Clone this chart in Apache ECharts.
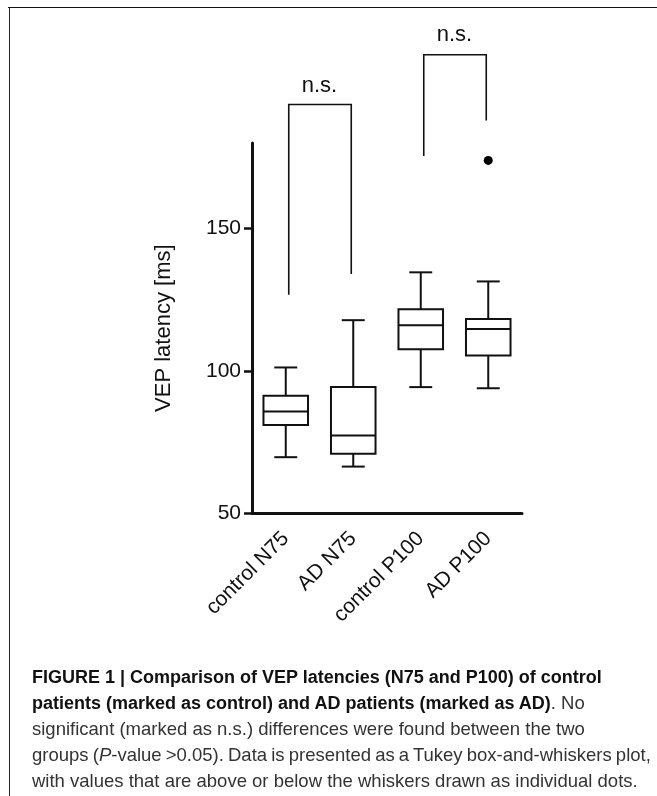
<!DOCTYPE html>
<html><head><meta charset="utf-8">
<script src="https://cdn.jsdelivr.net/npm/echarts@6/dist/echarts.min.js"></script>
<style>
html,body{margin:0;padding:0;background:#fff;}
#wrap{position:relative;width:657px;height:796px;overflow:hidden;}
#chart{position:absolute;left:0;top:0;width:657px;height:796px;}
#frameTop{position:absolute;left:8px;top:6.5px;width:649px;height:1.5px;background:#111;}
#frameLeft{position:absolute;left:8.5px;top:7px;width:1.5px;height:789px;background:#222;}
#caption{position:absolute;left:32px;top:664px;white-space:nowrap;font-family:"Liberation Sans",Arial,sans-serif;font-size:18.5px;line-height:26px;color:#333;}
#caption b{color:#111;font-size:18px;}
#caption .tight{word-spacing:-1px;}
</style></head>
<body>
<div id="wrap">
<div id="chart"></div>
<div id="frameTop"></div>
<div id="frameLeft"></div>
<div id="caption"><b>FIGURE 1 | Comparison of VEP latencies (N75 and P100) of control</b><br><b>patients (marked as control) and AD patients (marked as AD)</b>. No<br>significant (marked as n.s.) differences were found between the two<br><span class="tight">groups (<i>P</i>-value &gt;0.05). Data is presented as a Tukey box-and-whiskers plot,</span><br>with values that are above or below the whiskers drawn as individual dots.</div>
</div>
<script>
// ---- data ----
const categories = ['control N75', 'AD N75', 'control P100', 'AD P100'];
const whiskerLow = [69.7, 66.4, 94.3, 93.9];
const q1Values   = [81.0, 70.9, 107.6, 105.4];
const medians    = [85.7, 77.3, 116.0, 114.7];
const q3Values   = [91.3, 94.3, 121.6, 118.2];
const whiskerHigh= [101.2, 117.8, 134.6, 131.4];
const outliers   = [[3, 173.9]];
const yTicks     = [50, 100, 150];
// brackets: [left category, right category, top value, left foot, right foot]
const brackets   = [[0, 1, 193.5, 126.7, 134.0], [2, 3, 211.0, 175.4, 187.9]];
const bracketLabels = ['n.s.', 'n.s.'];
const bracketLabelValues = [200.0, 218.0];

const FONT = '"Liberation Sans", Arial, Helvetica, sans-serif';
const INK = '#111';

const boxData = categories.map((c, i) => [i, whiskerLow[i], q1Values[i], medians[i], q3Values[i], whiskerHigh[i]]);
const bracketData = brackets.map((b, i) => [b[0], b[1], b[2], b[3], b[4], bracketLabelValues[i]]);

function renderBox(params, api) {
  const i = api.value(0);
  const lo = api.coord([i, api.value(1)]);
  const q1 = api.coord([i, api.value(2)]);
  const md = api.coord([i, api.value(3)]);
  const q3 = api.coord([i, api.value(4)]);
  const hi = api.coord([i, api.value(5)]);
  const band = api.size([1, 0])[0];
  const bw = band * 0.66, cw = band * 0.34;
  const x = lo[0];
  const st = { stroke: INK, lineWidth: 2, fill: null };
  const line = (x1, y1, x2, y2) => ({ type: 'line', shape: { x1, y1, x2, y2 }, style: st });
  return {
    type: 'group',
    children: [
      { type: 'rect', shape: { x: x - bw / 2, y: q3[1], width: bw, height: q1[1] - q3[1] }, style: { stroke: INK, lineWidth: 2, fill: '#fff' } },
      line(x - bw / 2, md[1], x + bw / 2, md[1]),
      line(x, q3[1], x, hi[1]),
      line(x, q1[1], x, lo[1]),
      line(x - cw / 2, hi[1], x + cw / 2, hi[1]),
      line(x - cw / 2, lo[1], x + cw / 2, lo[1])
    ]
  };
}

function renderBracket(params, api) {
  const l = api.value(0), r = api.value(1);
  const tl = api.coord([l, api.value(2)]);
  const tr = api.coord([r, api.value(2)]);
  const bl = api.coord([l, api.value(3)]);
  const br = api.coord([r, api.value(4)]);
  const lab = api.coord([l, api.value(5)]);
  const st = { stroke: INK, lineWidth: 1.6, fill: null };
  return {
    type: 'group',
    children: [
      { type: 'polyline', shape: { points: [[bl[0] + 3, bl[1]], [tl[0] + 3, tl[1]], [tr[0] - 2, tr[1]], [br[0] - 2, br[1]]] }, style: st },
      { type: 'text', style: { text: bracketLabels[params.dataIndex], x: (tl[0] + tr[0]) / 2, y: lab[1], align: 'center', verticalAlign: 'middle', fontSize: 22, fontFamily: FONT, fill: INK } }
    ]
  };
}

const chart = echarts.init(document.getElementById('chart'), null, { renderer: 'canvas' });
chart.setOption({
  animation: false,
  backgroundColor: 'transparent',
  grid: { left: 252, right: 135, top: 143, bottom: 282.7, containLabel: false },
  xAxis: {
    type: 'category',
    data: categories,
    boundaryGap: true,
    axisLine: { lineStyle: { color: INK, width: 3 } },
    axisTick: { alignWithLabel: true, length: 7, lineStyle: { color: INK, width: 2.5 } },
    axisLabel: { rotate: 45, interval: 0, margin: 22, fontSize: 21, color: INK, fontFamily: FONT },
    splitLine: { show: false }
  },
  yAxis: {
    type: 'value',
    min: 50, max: 180, interval: 50,
    name: 'VEP latency [ms]',
    nameLocation: 'middle',
    nameGap: 77,
    nameTextStyle: { fontSize: 22, color: INK, fontFamily: FONT },
    axisLine: { show: true, lineStyle: { color: INK, width: 3 } },
    axisTick: { show: true, length: 8, customValues: yTicks, lineStyle: { color: INK, width: 2.5 } },
    axisLabel: { customValues: yTicks, margin: 11, fontSize: 21, color: INK, fontFamily: FONT },
    splitLine: { show: false }
  },
  series: [
    { type: 'custom', renderItem: renderBox, data: boxData, encode: { x: 0, y: [1, 2, 3, 4, 5] }, z: 3 },
    { type: 'scatter', data: outliers, symbol: 'circle', symbolSize: 9, itemStyle: { color: '#000', opacity: 1 }, z: 4 },
    { type: 'custom', renderItem: renderBracket, data: bracketData, encode: { x: [0, 1], y: [2, 3, 4, 5] }, clip: false, z: 5 }
  ]
});
</script>
</body></html>
